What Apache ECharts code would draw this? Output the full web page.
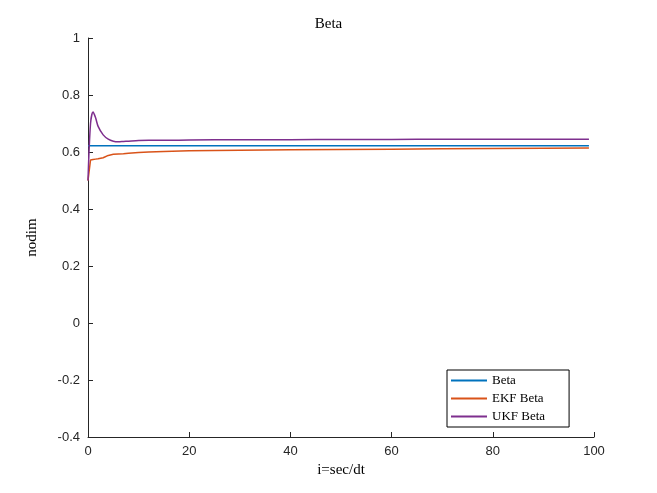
<!DOCTYPE html>
<html><head><meta charset="utf-8">
<script src="https://cdn.jsdelivr.net/npm/echarts@6/dist/echarts.min.js"></script>
<style>body{margin:0;background:#fff}#main{width:657px;height:493px}</style>
</head><body><div id="main"></div>
<script>
// values
var stepX = [0, 0.5, 1, 1.5, 2, 3, 4, 5, 6, 7, 8, 10, 12, 15, 20, 30, 40, 50, 60, 70, 80, 90, 99];
var betaY = [0.622, 0.622, 0.622, 0.622, 0.622, 0.622, 0.622, 0.622, 0.622, 0.622, 0.622, 0.622, 0.622, 0.622, 0.622, 0.622, 0.622, 0.622, 0.622, 0.622, 0.622, 0.622, 0.622];
var ekfY  = [0.50, 0.572, 0.574, 0.575, 0.576, 0.58, 0.588, 0.592, 0.593, 0.594, 0.596, 0.598, 0.600, 0.602, 0.604, 0.606, 0.608, 0.609, 0.610, 0.611, 0.612, 0.613, 0.614];
var ukfY  = [0.50, 0.70, 0.74, 0.72, 0.69, 0.66, 0.645, 0.638, 0.636, 0.637, 0.638, 0.640, 0.641, 0.641, 0.642, 0.643, 0.643, 0.644, 0.644, 0.645, 0.645, 0.645, 0.645];

function pairs(ys){ return stepX.map(function(x,i){ return [x, ys[i]]; }); }

var myChart = echarts.init(document.getElementById('main'));
var font = 'Liberation Serif';
myChart.setOption({
  animation: false,
  title: { text: 'Beta', left: 'center', top: 12, textStyle: { fontFamily: font, fontWeight: 'normal', fontSize: 15, color: '#000' } },
  grid: { left: 88, right: 63, top: 38, bottom: 56 },
  legend: {
    orient: 'vertical', left: 447, top: 370, backgroundColor: '#fff', borderColor: '#000', borderWidth: 1,
    itemWidth: 36, itemHeight: 2, itemGap: 5, padding: [4, 24, 4, 4], icon: 'rect',
    textStyle: { fontFamily: font, fontSize: 13, color: '#000' }
  },
  xAxis: {
    type: 'value', min: 0, max: 100, interval: 20, name: 'i=sec/dt', nameLocation: 'middle', nameGap: 22,
    nameTextStyle: { fontFamily: font, fontSize: 15, color: '#000' },
    axisLine: { onZero: false, lineStyle: { color: '#262626' } }, axisTick: { inside: true, length: 5 },
    axisLabel: { fontSize: 13, color: '#262626' }, splitLine: { show: false }
  },
  yAxis: {
    type: 'value', min: -0.4, max: 1, interval: 0.2, name: 'nodim', nameLocation: 'middle', nameGap: 48,
    nameTextStyle: { fontFamily: font, fontSize: 15, color: '#000' },
    axisLine: { show: true, onZero: false, lineStyle: { color: '#262626' } }, axisTick: { show: true, inside: true, length: 5 },
    axisLabel: { fontSize: 13, color: '#262626', formatter: function(v){ return +v.toFixed(1); } }, splitLine: { show: false }
  },
  series: [
    { name: 'Beta', type: 'line', data: pairs(betaY), showSymbol: false, lineStyle: { width: 1.5, color: '#0072BD' }, itemStyle: { color: '#0072BD' } },
    { name: 'EKF Beta', type: 'line', data: pairs(ekfY), showSymbol: false, lineStyle: { width: 1.5, color: '#D95319' }, itemStyle: { color: '#D95319' } },
    { name: 'UKF Beta', type: 'line', data: pairs(ukfY), smooth: 0.3, showSymbol: false, lineStyle: { width: 1.5, color: '#7E2F8E' }, itemStyle: { color: '#7E2F8E' } }
  ]
});
</script></body></html>
